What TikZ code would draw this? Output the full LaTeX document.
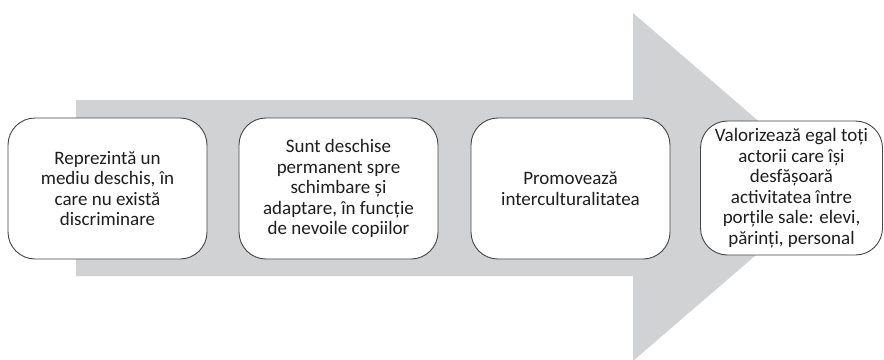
\documentclass[tikz,border=0pt]{standalone}
\usepackage{fontspec}
\setmainfont{Carlito}
\definecolor{arrowgrey}{RGB}{209,210,212}
\definecolor{boxline}{RGB}{70,70,70}
\definecolor{txt}{RGB}{30,30,30}
\tikzset{
  card/.style={draw=boxline, line width=0.9pt, fill=white, rounded corners=27pt,
    minimum width=199pt, minimum height=141pt, align=center, text=txt,
    font=\fontsize{19}{20.5}\selectfont, inner sep=0pt},
}
\begin{document}
\begin{tikzpicture}[x=1pt,y=-1pt]
  \useasboundingbox (0,0) rectangle (884,359);
  \clip (0,0) rectangle (884,359);
  % large grey arrow in the background
  \fill[arrowgrey] (76,100) -- (633,100) -- (633,13) -- (835,187)
    -- (633,361) -- (633,276) -- (76,276) -- cycle;
  % cards along the arrow
  \node[card] (c1) at (107.5,188.5) {Reprezintă un\\mediu deschis, în\\care nu există\\discriminare};
  \node[card] (c2) at (338.5,188.5) {Sunt deschise\\permanent spre\\schimbare și\\adaptare, în funcție\\de nevoile copiilor};
  \node[card] (c3) at (570.5,188.5) {Promovează\\interculturalitatea};
  \node[card, minimum width=182pt, minimum height=134pt] (c4) at (791.5,188) {Valorizează egal toți\\actorii care își\\desfășoară\\activitatea între\\porțile sale: elevi,\\părinți, personal};
\end{tikzpicture}
\end{document}
